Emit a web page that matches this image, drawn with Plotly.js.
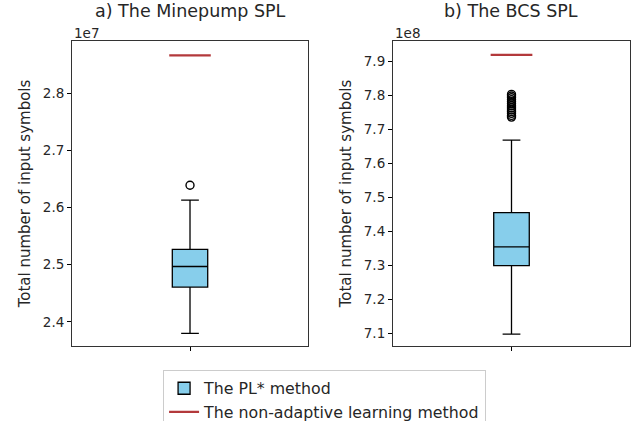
<!DOCTYPE html>
<html>
<head>
<meta charset="utf-8">
<script src="https://cdn.plot.ly/plotly-3.0.1.min.js"></script>
<style>html,body{margin:0;padding:0;background:#fff;}#chart{width:644px;height:421px;}</style>
</head>
<body>
<div id="chart"></div>
<script>
// Values in units of the axis offset (1e7 for Minepump, 1e8 for BCS)
const panelTitles = ["a) The Minepump SPL", "b) The BCS SPL"];
const offsetLabels = ["1e7", "1e8"];
const seriesNames = ["The PL* method", "The non-adaptive learning method"];

const mineQ1 = 2.461, mineMedian = 2.497, mineQ3 = 2.527;
const mineLowerFence = 2.380, mineUpperFence = 2.613;
const mineOutliers = [2.639];
const mineNonAdaptive = 2.866;

const bcsQ1 = 7.300, bcsMedian = 7.355, bcsQ3 = 7.456;
const bcsLowerFence = 7.098, bcsUpperFence = 7.669;
const bcsOutliers = [7.737, 7.742, 7.748, 7.753, 7.758, 7.764, 7.770, 7.776, 7.782, 7.788, 7.794, 7.799, 7.804];
const bcsNonAdaptive = 7.920;

const mineTicks = [2.4, 2.5, 2.6, 2.7, 2.8];
const mineTickLabels = ["2.4", "2.5", "2.6", "2.7", "2.8"];
const bcsTicks = [7.1, 7.2, 7.3, 7.4, 7.5, 7.6, 7.7, 7.8, 7.9];
const bcsTickLabels = ["7.1", "7.2", "7.3", "7.4", "7.5", "7.6", "7.7", "7.8", "7.9"];

const FONT = "DejaVu Sans, sans-serif";
const TXT = "#262626";
const boxFill = "#87CEEB";
const redColor = "#b3393b";
const center = 1;
const lineHalf = 0.088;

function boxTrace(ax, q1, med, q3, lo, hi, show) {
  return {
    type: "box", xaxis: "x" + ax, yaxis: "y" + ax,
    x: [center], q1: [q1], median: [med], q3: [q3], lowerfence: [lo], upperfence: [hi],
    width: 0.15, whiskerwidth: 0.5, boxpoints: false,
    fillcolor: boxFill, line: {color: "#000", width: 1.3},
    name: seriesNames[0], showlegend: show, legendgroup: "pl", hoverinfo: "skip"
  };
}
function redTrace(ax, v, show) {
  return {
    type: "scatter", mode: "lines", xaxis: "x" + ax, yaxis: "y" + ax,
    x: [center - lineHalf, center + lineHalf], y: [v, v],
    line: {color: redColor, width: 2.3},
    name: seriesNames[1], showlegend: show, legendgroup: "na", hoverinfo: "skip"
  };
}
function outlierTrace(ax, vals) {
  return {
    type: "scatter", mode: "markers", xaxis: "x" + ax, yaxis: "y" + ax,
    x: vals.map(() => center), y: vals,
    marker: {symbol: "circle-open", size: 8, color: "#000", line: {width: 1.4}},
    showlegend: false, hoverinfo: "skip"
  };
}

const data = [
  boxTrace("", mineQ1, mineMedian, mineQ3, mineLowerFence, mineUpperFence, true),
  redTrace("", mineNonAdaptive, true),
  outlierTrace("", mineOutliers),
  boxTrace("2", bcsQ1, bcsMedian, bcsQ3, bcsLowerFence, bcsUpperFence, false),
  redTrace("2", bcsNonAdaptive, false),
  outlierTrace("2", bcsOutliers)
];

const yDom = [0.1781, 0.9026];
function xa(dom, anchor) {
  return {
    domain: dom, anchor: anchor, range: [0.5, 1.5], tickvals: [center], ticktext: [""],
    ticks: "outside", ticklen: 4, tickcolor: "#000", showgrid: false, zeroline: false,
    showline: true, mirror: true, linecolor: "#333", linewidth: 1, fixedrange: true, automargin: false
  };
}
function ya(range, tv, tt, anchor) {
  return {
    domain: yDom, anchor: anchor, range: range, tickvals: tv, ticktext: tt,
    ticks: "outside", ticklen: 4, tickcolor: "#000", showgrid: false, zeroline: false,
    showline: true, mirror: true, linecolor: "#333", linewidth: 1, automargin: false,
    tickfont: {family: FONT, size: 13.5, color: TXT},
    title: {text: "Total number of input symbols", font: {family: FONT, size: 15, color: TXT}, standoff: 8}
  };
}

const layout = {
  width: 644, height: 421,
  margin: {l: 0, r: 0, t: 0, b: 0, autoexpand: false},
  paper_bgcolor: "#fff", plot_bgcolor: "#fff",
  font: {family: FONT, color: TXT},
  xaxis: xa([0.1118, 0.4783], "y"),
  yaxis: ya([2.358, 2.891], mineTicks, mineTickLabels, "x"),
  xaxis2: xa([0.6102, 0.9783], "y2"),
  yaxis2: ya([7.063, 7.961], bcsTicks, bcsTickLabels, "x2"),
  showlegend: true,
  legend: {
    x: 0.504, xanchor: "center", y: 0.12, yanchor: "top",
    bgcolor: "#fff", bordercolor: "#ccc", borderwidth: 1,
    font: {family: FONT, size: 15.8, color: TXT}, orientation: "v", tracegroupgap: 0
  },
  annotations: [
    {text: panelTitles[0], xref: "x domain", yref: "paper", x: 0.5, y: yDom[1], yanchor: "bottom", yshift: 18, showarrow: false, font: {family: FONT, size: 17.5, color: TXT}},
    {text: panelTitles[1], xref: "x2 domain", yref: "paper", x: 0.5, y: yDom[1], yanchor: "bottom", yshift: 18, showarrow: false, font: {family: FONT, size: 17.5, color: TXT}},
    {text: offsetLabels[0], xref: "x domain", yref: "paper", x: 0, xanchor: "left", y: yDom[1], yanchor: "bottom", yshift: -2, showarrow: false, font: {family: FONT, size: 13.5, color: TXT}},
    {text: offsetLabels[1], xref: "x2 domain", yref: "paper", x: 0, xanchor: "left", y: yDom[1], yanchor: "bottom", yshift: -2, showarrow: false, font: {family: FONT, size: 13.5, color: TXT}}
  ]
};

Plotly.newPlot("chart", data, layout, {displayModeBar: false, staticPlot: true});
</script>
</body>
</html>
